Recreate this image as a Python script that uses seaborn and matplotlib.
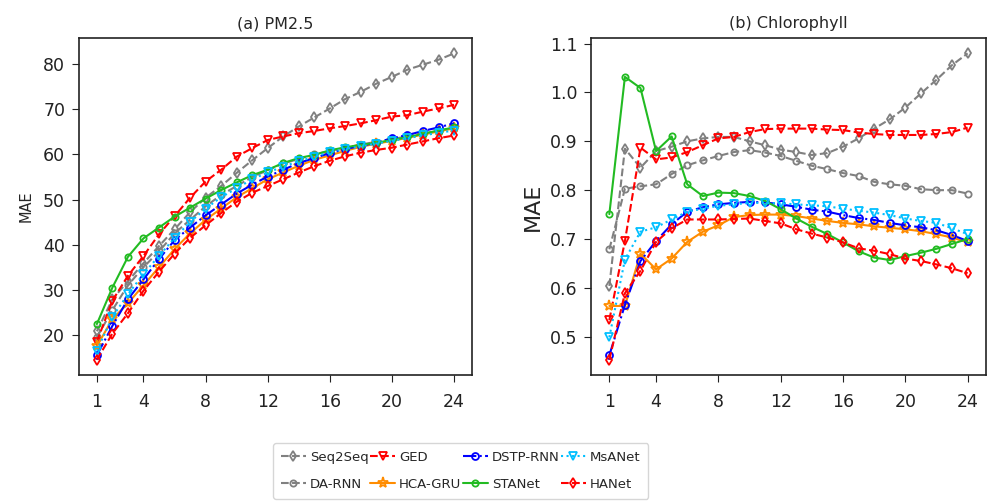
import numpy as np
import pandas as pd
import matplotlib
matplotlib.use("Agg")
import matplotlib.pyplot as plt
import seaborn as sns

steps = list(range(1, 25))
xticks = [1, 4, 8, 12, 16, 20, 24]
models = ["Seq2Seq", "DA-RNN", "GED", "HCA-GRU", "DSTP-RNN", "STANet", "MsANet", "HANet"]

# (a) PM2.5
pm_seq2seq = [20.8, 27.9, 31.9, 35.9, 39.7, 43.4, 47.2, 50.4, 53.0, 55.9, 58.7, 61.4, 64.0, 66.2, 68.2, 70.2, 72.3, 73.9, 75.7, 77.2, 78.8, 79.9, 81.0, 82.4]
pm_darnn = [19.5, 25.5, 31.0, 35.0, 38.5, 42.5, 45.5, 48.5, 51.0, 53.0, 55.0, 56.5, 58.0, 59.0, 60.0, 60.8, 61.5, 62.2, 62.8, 63.4, 64.0, 64.6, 65.2, 65.8]
pm_ged = [18.5, 27.6, 33.1, 37.5, 42.3, 46.3, 50.4, 54.0, 56.6, 59.5, 61.4, 63.2, 64.0, 64.7, 65.2, 65.8, 66.3, 66.9, 67.6, 68.4, 68.7, 69.5, 70.2, 71.0]
pm_hcagru = [17.5, 23.5, 27.0, 31.0, 35.0, 39.0, 42.5, 45.5, 48.0, 50.5, 52.5, 54.5, 56.0, 57.5, 58.8, 59.8, 60.8, 61.7, 62.4, 63.0, 63.7, 64.4, 65.1, 65.8]
pm_dstp = [15.5, 22.0, 27.9, 32.3, 36.8, 41.0, 43.8, 46.5, 48.9, 51.3, 53.3, 55.1, 56.6, 58.1, 59.2, 60.3, 61.2, 61.9, 62.6, 63.6, 64.3, 65.2, 66.0, 66.9]
pm_stanet = [22.4, 30.5, 37.3, 41.4, 43.8, 46.2, 48.2, 50.2, 52.1, 53.8, 55.4, 56.6, 58.1, 59.2, 59.9, 60.9, 61.6, 62.1, 62.6, 63.2, 63.8, 64.6, 65.3, 66.0]
pm_msanet = [16.5, 24.0, 29.0, 33.5, 37.5, 41.5, 45.0, 48.0, 50.5, 52.5, 54.5, 56.0, 57.3, 58.5, 59.5, 60.5, 61.2, 61.8, 62.4, 63.0, 63.6, 64.2, 64.8, 65.3]
pm_hanet = [14.5, 20.3, 24.8, 29.8, 34.0, 38.0, 41.5, 44.3, 47.0, 49.5, 51.5, 53.0, 54.5, 56.0, 57.4, 58.6, 59.6, 60.4, 61.0, 61.5, 62.2, 62.9, 63.6, 64.2]

# (b) Chlorophyll
ch_seq2seq = [0.604, 0.885, 0.846, 0.880, 0.889, 0.900, 0.906, 0.909, 0.909, 0.900, 0.892, 0.883, 0.878, 0.872, 0.876, 0.889, 0.906, 0.926, 0.945, 0.969, 0.998, 1.026, 1.056, 1.080]
ch_darnn = [0.679, 0.803, 0.808, 0.812, 0.833, 0.851, 0.861, 0.870, 0.878, 0.882, 0.877, 0.870, 0.860, 0.850, 0.843, 0.835, 0.829, 0.817, 0.812, 0.809, 0.802, 0.800, 0.800, 0.793]
ch_ged = [0.534, 0.696, 0.887, 0.863, 0.867, 0.878, 0.892, 0.906, 0.909, 0.919, 0.925, 0.926, 0.926, 0.926, 0.924, 0.923, 0.918, 0.915, 0.913, 0.913, 0.913, 0.915, 0.919, 0.928]
ch_hcagru = [0.563, 0.563, 0.670, 0.638, 0.660, 0.694, 0.715, 0.728, 0.745, 0.749, 0.750, 0.750, 0.747, 0.742, 0.737, 0.733, 0.730, 0.726, 0.723, 0.720, 0.716, 0.710, 0.703, 0.693]
ch_dstp = [0.462, 0.565, 0.655, 0.696, 0.730, 0.756, 0.765, 0.771, 0.774, 0.776, 0.775, 0.771, 0.766, 0.760, 0.756, 0.749, 0.743, 0.739, 0.733, 0.728, 0.724, 0.718, 0.708, 0.696]
ch_stanet = [0.751, 1.032, 1.009, 0.880, 0.910, 0.812, 0.788, 0.795, 0.794, 0.788, 0.778, 0.761, 0.742, 0.725, 0.710, 0.693, 0.675, 0.662, 0.657, 0.665, 0.672, 0.680, 0.690, 0.700]
ch_msanet = [0.499, 0.658, 0.715, 0.724, 0.740, 0.756, 0.762, 0.768, 0.771, 0.774, 0.774, 0.773, 0.771, 0.769, 0.767, 0.762, 0.758, 0.754, 0.749, 0.742, 0.737, 0.733, 0.722, 0.710]
ch_hanet = [0.453, 0.589, 0.635, 0.694, 0.722, 0.740, 0.740, 0.740, 0.741, 0.742, 0.737, 0.732, 0.720, 0.711, 0.703, 0.693, 0.681, 0.676, 0.669, 0.660, 0.655, 0.648, 0.640, 0.630]

pm_data = [pm_seq2seq, pm_darnn, pm_ged, pm_hcagru, pm_dstp, pm_stanet, pm_msanet, pm_hanet]
ch_data = [ch_seq2seq, ch_darnn, ch_ged, ch_hcagru, ch_dstp, ch_stanet, ch_msanet, ch_hanet]

styles = {
    "Seq2Seq": dict(color="#808080", linestyle="--", marker="d", ms=5),
    "DA-RNN": dict(color="#808080", linestyle="--", marker="o", ms=4.5),
    "GED": dict(color="#ff0000", linestyle="--", marker="v", ms=5.5),
    "HCA-GRU": dict(color="#ff8c00", linestyle="-", marker="*", ms=8),
    "DSTP-RNN": dict(color="#0000ff", linestyle="-.", marker="o", ms=5),
    "STANet": dict(color="#22bb22", linestyle="-", marker="o", ms=4.5),
    "MsANet": dict(color="#00bfff", linestyle=":", marker="v", ms=5.5),
    "HANet": dict(color="#ff0000", linestyle="--", marker="d", ms=5),
}

sns.set_style("ticks")
plt.rcParams["font.family"] = ["DejaVu Sans"]

fig = plt.figure(figsize=(9.89, 5.01), dpi=100)
ax1 = fig.add_axes([0.0799, 0.2515, 0.3973, 0.6725])
ax2 = fig.add_axes([0.598, 0.2515, 0.3985, 0.6725])

for ax, data in [(ax1, pm_data), (ax2, ch_data)]:
    for name, vals in zip(models, data):
        st = styles[name]
        df = pd.DataFrame({"step": steps, "mae": vals})
        sns.lineplot(data=df, x="step", y="mae", ax=ax, color=st["color"],
                     linestyle=st["linestyle"], marker=st["marker"],
                     markersize=st["ms"], markerfacecolor="none",
                     markeredgecolor=st["color"], markeredgewidth=1.3,
                     linewidth=1.5, label=name)
    ax.set_xticks(xticks)
    ax.set_xlabel("")
    ax.tick_params(labelsize=12.5, direction="out", length=5, colors="#222222")
    ax.tick_params(axis="x", pad=8)
    ax.tick_params(axis="y", pad=5)
    for sp in ax.spines.values():
        sp.set_visible(True)
        sp.set_color("#222222")
        sp.set_linewidth(1.2)

ax1.set_title("(a) PM2.5", fontsize=11.5, pad=7)
ax2.set_title("(b) Chlorophyll", fontsize=11.5, pad=7)
ax1.set_ylabel("MAE", fontsize=10.5, labelpad=7)
ax2.set_ylabel("MAE", fontsize=16, labelpad=5)
ax1.set_yticks([20, 30, 40, 50, 60, 70, 80])
ax2.set_yticks([0.5, 0.6, 0.7, 0.8, 0.9, 1.0, 1.1])

handles, labels = ax1.get_legend_handles_labels()
ax1.get_legend().remove()
ax2.get_legend().remove()
fig.legend(handles, labels, loc="upper left", bbox_to_anchor=(273 / 989, 1 - 443 / 501),
           borderaxespad=0, ncol=4, fontsize=9.5, columnspacing=0.1, handlelength=1.9,
           handletextpad=0.3, labelspacing=1.05, borderpad=0.6, frameon=True)

fig.savefig("out.png", dpi=100)
